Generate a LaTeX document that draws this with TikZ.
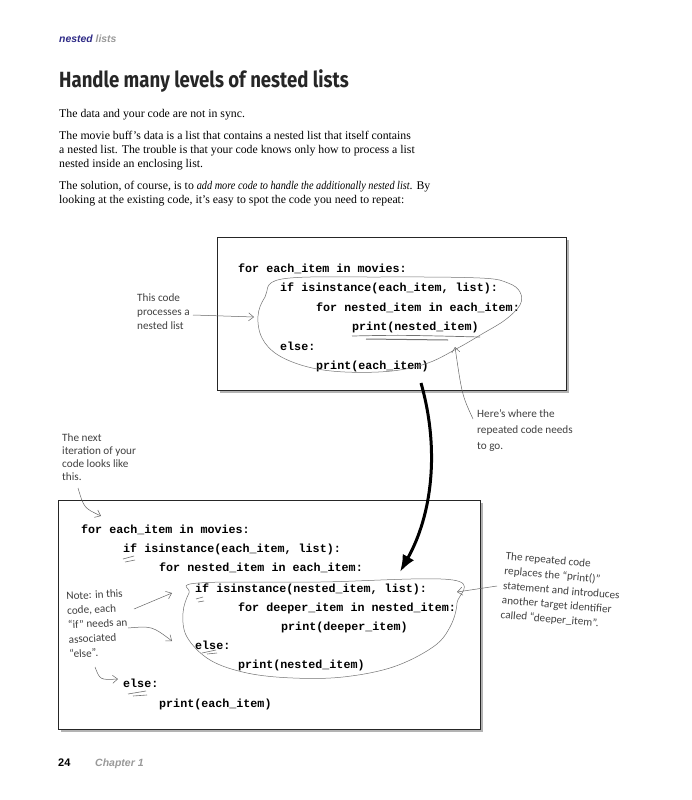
\documentclass[tikz,border=0pt]{standalone}
\usepackage{fontspec}
\setmainfont{Liberation Serif}
\setmonofont{Liberation Mono}
\newfontfamily\handfont{Carlito}
\newfontfamily\headfont{Liberation Sans}
\newfontfamily\titlefont[FakeStretch=0.845]{Fira Sans}
\usetikzlibrary{arrows.meta,shadows}
\definecolor{headblue}{HTML}{2E2A86}
\definecolor{inkgray}{HTML}{404040}

\begin{document}
\begin{tikzpicture}
    [
        x = 1pt, y = -1pt,
        code line/.style = {anchor = base west, inner sep = 0pt, font = \fontsize{11.7}{14}\ttfamily\bfseries},
        body text/.style = {anchor = north west, inner sep = 0pt, align = left, font = \fontsize{11.8}{14.2}\selectfont},
        hand note/.style = {anchor = north west, inner sep = 0pt, align = left, text = inkgray, font = \fontsize{11.2}{14}\handfont},
        code box/.style = {draw = black!85, fill = white, line width = 0.6pt, drop shadow = {shadow xshift = 3pt, shadow yshift = -3pt, opacity = 0.6}},
        loop line/.style = {draw = black!55, line width = 0.5pt},
        note arrow/.style = {draw = black!60, line width = 0.5pt, -{Straight Barb[length = 5pt, width = 8pt]}},
        tick mark/.style = {draw = black!55, line width = 0.6pt}
    ]
    \useasboundingbox (0,0) rectangle (691,800);

    % page head
    \node (head) [anchor = base west, inner sep = 0pt, font = \fontsize{10.4}{11}\headfont\bfseries\itshape]
        at (59,43) {\textcolor{headblue}{nested} \textcolor{black!40}{lists}};
    \node (title) [anchor = base west, inner sep = 0pt, font = \fontsize{22}{24}\titlefont\bfseries, text = black!85]
        at (59,88) {Handle many levels of nested lists};

    \node (para1) [body text] at (59,109) {The data and your code are not in sync.};
    \node (para2) [body text] at (59,131) {The movie buff’s data is a list that contains a nested list that itself contains\\
        a nested list. The trouble is that your code knows only how to process a list\\
        nested inside an enclosing list.};
    \node (para3) [body text] at (59,181) {The solution, of course, is to
        \textit{\addfontfeature{FakeStretch=0.87}add more code to handle the additionally nested list}. By\\
        looking at the existing code, it’s easy to spot the code you need to repeat:};

    % first box
    \path [code box] (217,237) rectangle (566,390);
    \node (a1) [code line] at (238,272) {for each\_item in movies:};
    \node (a2) [code line] at (280,291) {if isinstance(each\_item, list):};
    \node (a3) [code line] at (316,311) {for nested\_item in each\_item:};
    \node (a4) [code line] at (352,330) {print(nested\_item)};
    \node (a5) [code line] at (280,350) {else:};
    \node (a6) [code line] at (316,369) {print(each\_item)};

    \draw [loop line] plot [smooth cycle, tension = 0.6] coordinates
        {(282,279) (265,297) (258,316) (262,338) (278,355) (308,367) (345,372) (392,371)
         (428,363) (458,348) (482,334) (505,320) (520,305) (520,292) (508,283) (480,278) (380,277)};
    \draw [loop line, line width = 0.7pt] (352,336) .. controls (400,335) .. (480,337);
    \draw [loop line, line width = 1pt] (366,339) -- (448,340);

    \node (note1) [hand note] at (137,294) {This code\\processes a\\nested list};
    \coordinate (note1 tail) at (193,315);
    \coordinate (note1 tip) at (254,317);
    \draw [note arrow] (note1 tail) -- (note1 tip);

    \node (note2) [hand note, font = \fontsize{11.2}{16}\handfont] at (477,409) {Here’s where the\\repeated code needs\\to go.};
    \coordinate (note2 tail) at (473,419);
    \coordinate (note2 tip) at (455,347);
    \draw [note arrow] (note2 tail) .. controls (462,395) .. (note2 tip);

    % the big arrow between the boxes
    \coordinate (jump start) at (421,383);
    \coordinate (jump end) at (400,572);

    % second box
    \path [code box] (58,500) rectangle (480,729);
    \node (b1) [code line] at (81,533) {for each\_item in movies:};
    \node (b2) [code line] at (123,552) {if isinstance(each\_item, list):};
    \node (b3) [code line] at (159,571) {for nested\_item in each\_item:};
    \node (b4) [code line] at (195,592) {if isinstance(nested\_item, list):};
    \node (b5) [code line] at (238,611) {for deeper\_item in nested\_item:};
    \node (b6) [code line] at (281,630) {print(deeper\_item)};
    \node (b7) [code line] at (195,649) {else:};
    \node (b8) [code line] at (238,668) {print(nested\_item)};
    \node (b9) [code line] at (123,687) {else:};
    \node (b10) [code line] at (159,707) {print(each\_item)};

    \draw [loop line] plot [smooth cycle, tension = 0.6] coordinates
        {(198,583) (320,582) (453,580) (457,603) (450,627) (433,647) (393,667) (343,677)
         (293,678) (247,673) (210,660) (187,637) (183,613) (189,593)};

    \draw [tick mark] (123,559) -- (134,556) (125,562) -- (135,560);
    \draw [tick mark] (196,599) -- (203,597) (198,602) -- (204,601);
    \draw [tick mark] (202,653) -- (216,650) (207,654) -- (217,653);
    \draw [tick mark] (128,694) -- (146,691) (133,696) -- (147,695);

    \draw [line width = 3pt, -{Latex[length = 17pt, width = 13pt]}]
        (jump start) .. controls (440,450) and (432,515) .. (jump end);

    \node (note3) [hand note, font = \fontsize{11.2}{13}\handfont] at (62,434) {The next\\iteration of your\\code looks like\\this.};
    \coordinate (note3 tail) at (78,488);
    \coordinate (note3 tip) at (101,516);
    \draw [note arrow] (note3 tail) .. controls (84,508) .. (note3 tip);

    \node (note4) [hand note, font = \fontsize{11.2}{14.5}\handfont, rotate = 3] at (66,592)
        {Note: in this\\code, each\\“if” needs an\\associated\\“else”.};
    \coordinate (note4 tail a) at (134,609);
    \coordinate (note4 tip a) at (172,593);
    \coordinate (note4 tail b) at (128,628);
    \coordinate (note4 tip b) at (172,641);
    \coordinate (note4 tail c) at (95,667);
    \coordinate (note4 tip c) at (118,679);
    \draw [note arrow] (note4 tail a) -- (note4 tip a);
    \draw [note arrow] (note4 tail b) .. controls (152,626) .. (note4 tip b);
    \draw [note arrow] (note4 tail c) .. controls (100,680) .. (note4 tip c);

    \node (note5) [hand note, font = \fontsize{11.2}{14.6}\handfont, rotate = -5] at (506,552)
        {The repeated code\\replaces the “print()”\\statement and introduces\\another target identifier\\called “deeper\_item”.};
    \coordinate (note5 tail) at (497,586);
    \coordinate (note5 tip) at (457,592);
    \draw [note arrow] (note5 tail) -- (note5 tip);

    % page foot
    \node (page) [anchor = base west, inner sep = 0pt, font = \fontsize{11}{12}\headfont\bfseries] at (58,766) {24};
    \node (chapter) [anchor = base west, inner sep = 0pt, font = \fontsize{10.5}{12}\headfont\bfseries\itshape, text = black!40] at (95,766) {Chapter 1};
\end{tikzpicture}
\end{document}
